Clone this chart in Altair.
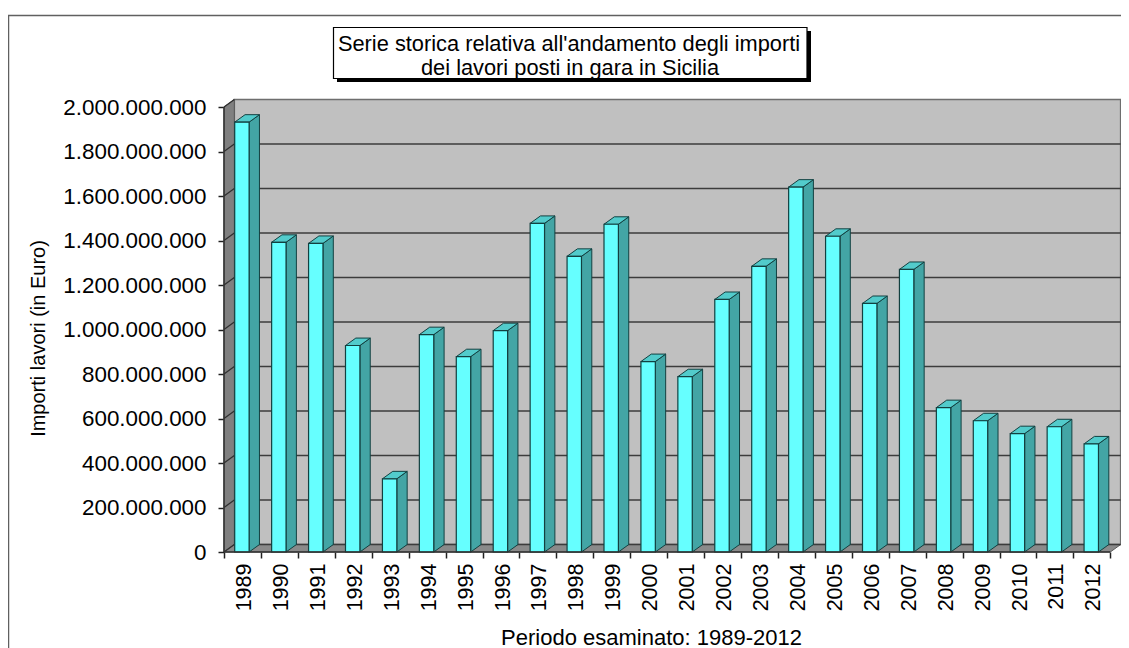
import altair as alt
import pandas as pd

years = list(range(1989, 2013))
values = [1932e6, 1392e6, 1387e6, 928e6, 329e6, 977e6, 878e6, 995e6, 1477e6, 1329e6, 1473e6, 856e6,
          788e6, 1135e6, 1284e6, 1640e6, 1419e6, 1117e6, 1270e6, 649e6, 590e6, 532e6, 563e6, 486e6]
y_levels = [i * 200_000_000 for i in range(11)]
title_lines = ["Serie storica relativa all'andamento degli importi", "dei lavori posti in gara in Sicilia"]

FONT = "Liberation Sans"
W, H = 897, 453
DX = 0.28       # depth of the 3D effect, in years
DY = 33.5e6     # depth of the 3D effect, in euro
BAR_L, BAR_R = -0.21, 0.18
XMIN, XMAX_FRONT = 1988.5, 2012.5
XMAX = XMAX_FRONT + DX
YTOP = 2e9 * H / 445

xs = alt.Scale(domain=[XMIN, XMAX + 0.01], nice=False, zero=False)
ys = alt.Scale(domain=[0, YTOP], nice=False)

x_axis = alt.Axis(
    values=[XMIN + i for i in range(25)], tickCount=30, title="Periodo esaminato: 1989-2012",
    labelExpr="datum.value > 2012 ? '' : format(datum.value + 0.5, 'd')",
    labelOffset=20.5, labelAngle=270, labelAlign="right", labelBaseline="middle",
    labelFont=FONT, labelFontSize=21.5, labelColor="#000000", labelPadding=5,
    labelOverlap=False, labelBound=False, labelFlush=False,
    tickSize=6, tickColor="#202020", tickWidth=1.5, domain=False, grid=False,
    titleFont=FONT, titleFontSize=22, titleFontWeight="normal", titleColor="#000000",
    titleX=427, titleY=85, titleAnchor="middle", titleBaseline="middle", titleAlign="center",
)
y_axis = alt.Axis(
    values=y_levels, tickCount=20, title="Importi lavori (in Euro)",
    labelExpr="replace(format(datum.value, ','), /,/g, '.')",
    labelFont=FONT, labelFontSize=22.4, labelColor="#000000", labelPadding=12,
    tickSize=6, tickColor="#202020", tickWidth=1.5, domain=False, grid=False,
    labelOverlap=False, labelBound=False,
    titleFont=FONT, titleFontSize=20, titleFontWeight="normal", titleColor="#000000",
    titleX=-186, titleY=239, titleAngle=270, titleBaseline="middle", titleAlign="center",
)

X = lambda f="x": alt.X(f"{f}:Q", scale=xs)
Y = lambda f="y": alt.Y(f"{f}:Q", scale=ys, stack=None)
X2 = alt.X2("x2:Q")
Y2 = alt.Y2("y2:Q")

# frame of the whole picture
frame = alt.Chart(pd.DataFrame({"n": [0]})).mark_rect(fillOpacity=0, stroke="#606060", strokeWidth=1.5).encode(
    x=alt.value(-215.5), x2=alt.value(1000), y=alt.value(-83.5), y2=alt.value(700))

# back wall (carries the axes)
wall = alt.Chart(pd.DataFrame({"x": [XMIN + DX], "x2": [XMAX], "y": [DY], "y2": [2e9 + DY]})).mark_rect(
    fill="#C0C0C0", stroke="#6E6E6E", strokeWidth=1.5).encode(
    x=alt.X("x:Q", scale=xs, axis=x_axis), x2=X2, y=alt.Y("y:Q", scale=ys, axis=y_axis), y2=Y2)

# left wall and floor
left_wall = alt.Chart(pd.DataFrame({"x": [XMIN, XMIN + DX], "y": [2e9, 2e9 + DY], "y2": [0, DY]})).mark_area(
    fill="#808080", stroke="#5A5A5A", strokeWidth=1, interpolate="linear").encode(x=X(), y=Y(), y2=Y2)
floor = alt.Chart(pd.DataFrame({"y": [0, DY], "x": [XMIN, XMIN + DX], "x2": [XMAX_FRONT, XMAX]})).mark_area(
    orient="horizontal", fill="#8A8A8A", stroke="#5A5A5A", strokeWidth=1, interpolate="linear").encode(
    x=alt.X("x:Q", scale=xs, stack=None), x2=X2, y=alt.Y("y:Q", scale=ys))

# gridlines on the walls
grid = alt.Chart(pd.DataFrame({"y": [v + DY for v in y_levels[:-1]], "x": [XMIN + DX] * 10, "x2": [XMAX] * 10})).mark_rule(
    color="#3C3C3C", strokeWidth=1.6).encode(x=X(), x2=X2, y=Y())
diag = alt.Chart(pd.DataFrame({"x": [XMIN] * 11, "x2": [XMIN + DX] * 11, "y": y_levels,
                               "y2": [v + DY for v in y_levels]})).mark_rule(
    color="#303030", strokeWidth=1.3).encode(x=X(), x2=X2, y=Y(), y2=Y2)

# bars
side_rows, top_rows = [], []
for yr, v in zip(years, values):
    side_rows += [{"yr": yr, "x": yr + BAR_R, "y": v, "y2": 0},
                  {"yr": yr, "x": yr + BAR_R + DX, "y": v + DY, "y2": DY}]
    top_rows += [{"yr": yr, "y": v, "x": yr + BAR_L, "x2": yr + BAR_R},
                 {"yr": yr, "y": v + DY, "x": yr + BAR_L + DX, "x2": yr + BAR_R + DX}]
EDGE = "#124040"
side = alt.Chart(pd.DataFrame(side_rows)).mark_area(
    fill="#43A5A5", stroke=EDGE, strokeWidth=1, interpolate="linear").encode(
    x=X(), y=Y(), y2=Y2, detail="yr:O")
top = alt.Chart(pd.DataFrame(top_rows)).mark_area(
    orient="horizontal", fill="#52CBCB", stroke=EDGE, strokeWidth=1, interpolate="linear").encode(
    x=alt.X("x:Q", scale=xs, stack=None), x2=X2,
    y=alt.Y("y:Q", scale=ys), detail="yr:O")
front_df = pd.DataFrame({"x": [yr + BAR_L for yr in years], "x2": [yr + BAR_R for yr in years],
                         "y": values, "y2": [0] * len(years)})
front = alt.Chart(front_df).mark_rect(fill="#66FFFF", stroke=EDGE, strokeWidth=1.2).encode(
    x=X(), x2=X2, y=Y(), y2=Y2)

# front axis lines
y_line = alt.Chart(pd.DataFrame({"x": [XMIN], "y": [0], "y2": [2e9]})).mark_rule(
    color="#303030", strokeWidth=1.5).encode(x=X(), y=Y(), y2=Y2)
x_line = alt.Chart(pd.DataFrame({"y": [0], "x": [XMIN], "x2": [XMAX_FRONT]})).mark_rule(
    color="#303030", strokeWidth=1.5).encode(x=X(), x2=X2, y=Y())

# title box
one = pd.DataFrame({"n": [0]})
shadow = alt.Chart(one).mark_rect(fill="#000000").encode(
    x=alt.value(113), x2=alt.value(587), y=alt.value(-68), y2=alt.value(-17))
box = alt.Chart(one).mark_rect(fill="#FFFFFF", stroke="#000000", strokeWidth=1.2).encode(
    x=alt.value(109.5), x2=alt.value(583), y=alt.value(-71.5), y2=alt.value(-20.5))
t1 = alt.Chart(pd.DataFrame({"t": [title_lines[0]]})).mark_text(
    font=FONT, fontSize=21.8, color="#000000", align="center", baseline="middle").encode(
    x=alt.value(345), y=alt.value(-55), text="t:N")
t2 = alt.Chart(pd.DataFrame({"t": [title_lines[1]]})).mark_text(
    font=FONT, fontSize=21.8, color="#000000", align="center", baseline="middle").encode(
    x=alt.value(346), y=alt.value(-31), text="t:N")

chart = alt.layer(frame, wall, left_wall, floor, grid, diag, side, top, front, y_line, x_line,
                  shadow, box, t1, t2).properties(
    width=W, height=H,
    padding={"left": 216, "top": 91, "right": 0, "bottom": 96},
    autosize=alt.AutoSizeParams(type="none"),
    background="#FFFFFF",
).configure_view(stroke=None)

chart.save("out.html", embed_options={"renderer": "svg", "actions": False})
